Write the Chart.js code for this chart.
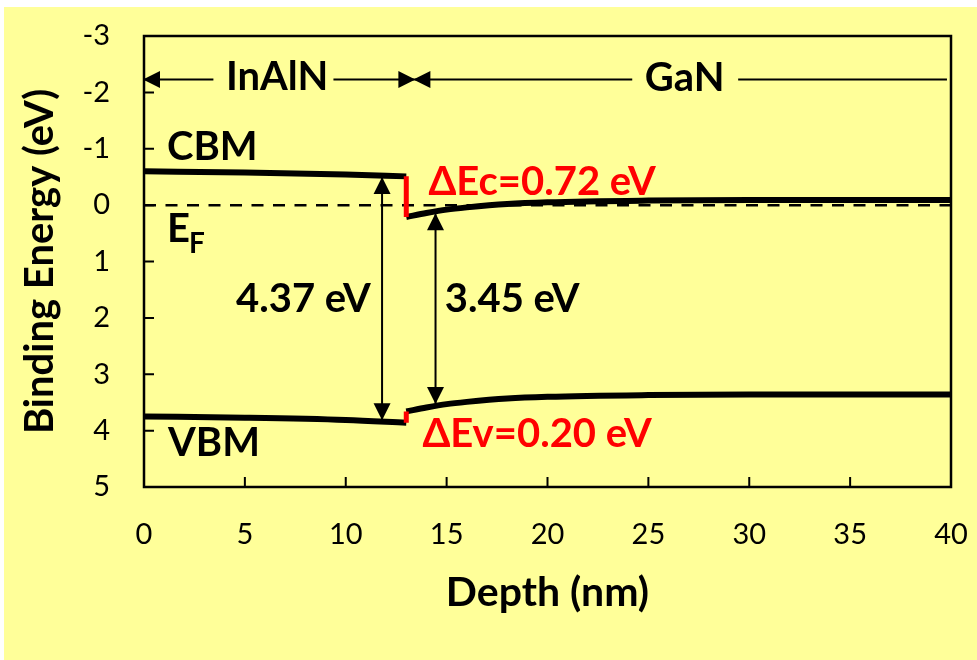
<!DOCTYPE html>
<html>
<head>
<meta charset="utf-8">
<title>InAlN / GaN band diagram</title>
<script src="https://cdn.jsdelivr.net/npm/chart.js@4.4.1/dist/chart.umd.min.js"></script>
<style>
  html, body { margin: 0; padding: 0; background: #fff; }
  #wrap { width: 977px; height: 660px; }
</style>
</head>
<body>
<div id="wrap"><canvas id="bandChart" width="977" height="660"></canvas></div>
<script>
// band edges (depth in nm, binding energy in eV)
const depthInAlN = [0, 5, 10, 13];
const cbmInAlN = [-0.60, -0.58, -0.545, -0.51];
const vbmInAlN = [3.75, 3.77, 3.81, 3.86];

const depthGaN = [13, 14, 15, 16, 18, 20, 25, 30, 40];
const cbmGaN = [0.21, 0.14, 0.08, 0.04, -0.02, -0.05, -0.08, -0.09, -0.09];
const vbmGaN = [3.66, 3.59, 3.53, 3.49, 3.43, 3.40, 3.37, 3.36, 3.36];

// band offsets at the interface
const interfaceX = [13, 13];
const offsetEc = [-0.51, 0.21];
const offsetEv = [3.66, 3.86];

// Fermi level
const fermiX = [0, 40];
const fermiY = [0, 0];

// gap arrows
const gapInAlNX = [11.8, 11.8];
const gapInAlNY = [-0.48, 3.80];
const gapGaNX = [14.45, 14.45];
const gapGaNY = [0.16, 3.51];

// layer arrows at the top (null = gap for the label)
const layerInAlNX = [0, 3.44, 3.44, 9.39, 13.4];
const layerInAlNY = [-2.23, -2.23, null, -2.23, -2.23];
const layerGaNX = [13.4, 24.2, 24.2, 29.45, 39.8];
const layerGaNY = [-2.23, -2.23, null, -2.23, -2.23];

const xTicks = [0, 5, 10, 15, 20, 25, 30, 35, 40];
const yTicks = [-3, -2, -1, 0, 1, 2, 3, 4, 5];

const toPoints = (xs, ys) => xs.map((x, i) => ({ x: x, y: ys[i] }));

function line(xs, ys, opts) {
    return Object.assign({
        data: toPoints(xs, ys),
        showLine: true,
        borderColor: '#000',
        borderWidth: 2,
        pointRadius: 0,
        pointHoverRadius: 0,
        fill: false,
        spanGaps: false,
        order: 2
    }, opts);
}

function drawHead(ctx, from, tip) {
    const a = Math.atan2(tip.y - from.y, tip.x - from.x);
    ctx.save();
    ctx.translate(tip.x, tip.y);
    ctx.rotate(a);
    ctx.beginPath();
    ctx.moveTo(1, 0);
    ctx.lineTo(-16, -8.5);
    ctx.lineTo(-16, 8.5);
    ctx.closePath();
    ctx.fillStyle = '#000';
    ctx.fill();
    ctx.restore();
}

const arrowHeads = {
    id: 'arrowHeads',
    afterDatasetsDraw(chart) {
        const ctx = chart.ctx;
        chart.data.datasets.forEach((ds, i) => {
            if (!ds.arrows) return;
            const pts = chart.getDatasetMeta(i).data;
            const n = pts.length;
            if (ds.arrows.indexOf('start') >= 0) drawHead(ctx, pts[1], pts[0]);
            if (ds.arrows.indexOf('end') >= 0) drawHead(ctx, pts[n - 2], pts[n - 1]);
        });
    }
};

const background = {
    id: 'background',
    beforeDraw(chart) {
        const ctx = chart.ctx;
        ctx.save();
        ctx.fillStyle = '#FFFF99';
        ctx.fillRect(4, 7, chart.width - 4, chart.height - 7);
        ctx.restore();
    }
};

// labels placed in data coordinates
const labels = [
    { text: 'InAlN', x: 6.6, y: -2.04, align: 'center', color: '#000' },
    { text: 'GaN', x: 26.8, y: -2.02, align: 'center', color: '#000' },
    { text: 'CBM', x: 1.14, y: -0.80, align: 'left', color: '#000' },
    { text: 'VBM', x: 1.19, y: 4.45, align: 'left', color: '#000' },
    { text: '4.37 eV', x: 7.9, y: 1.90, align: 'center', color: '#000' },
    { text: '3.45 eV', x: 18.25, y: 1.90, align: 'center', color: '#000' },
    { text: 'ΔEc=0.72 eV', x: 14.1, y: -0.18, align: 'left', color: '#FF0000' },
    { text: 'ΔEv=0.20 eV', x: 13.8, y: 4.29, align: 'left', color: '#FF0000' }
];

const frameAndText = {
    id: 'frameAndText',
    afterDraw(chart) {
        const ctx = chart.ctx;
        const xs = chart.scales.x, ys = chart.scales.y;
        const a = chart.chartArea;
        ctx.save();
        ctx.strokeStyle = '#000';
        ctx.lineWidth = 2.5;
        ctx.strokeRect(a.left, a.top, a.right - a.left, a.bottom - a.top);
        ctx.lineWidth = 2;
        ctx.beginPath();
        yTicks.forEach(v => {
            const py = ys.getPixelForValue(v);
            ctx.moveTo(a.left, py);
            ctx.lineTo(a.left + 10, py);
        });
        xTicks.forEach(v => {
            const px = xs.getPixelForValue(v);
            ctx.moveTo(px, a.bottom);
            ctx.lineTo(px, a.bottom - 10);
        });
        ctx.stroke();

        ctx.textBaseline = 'alphabetic';
        ctx.font = 'bold 40px Lato';
        labels.forEach(l => {
            ctx.fillStyle = l.color;
            ctx.textAlign = l.align;
            ctx.fillText(l.text, xs.getPixelForValue(l.x), ys.getPixelForValue(l.y));
        });
        // E_F with subscript
        const ex = xs.getPixelForValue(1.14), ey = ys.getPixelForValue(0.65);
        ctx.fillStyle = '#000';
        ctx.textAlign = 'left';
        ctx.fillText('E', ex, ey);
        const ew = ctx.measureText('E').width;
        ctx.font = 'bold 28px Lato';
        ctx.fillText('F', ex + ew - 1, ey + 11);
        ctx.restore();
    }
};

new Chart(document.getElementById('bandChart'), {
    type: 'scatter',
    data: {
        datasets: [
            line(interfaceX, offsetEc, { borderColor: '#FF0000', borderWidth: 5, order: 0 }),
            line(interfaceX, offsetEv, { borderColor: '#FF0000', borderWidth: 5, order: 0 }),
            line(depthInAlN, cbmInAlN, { borderWidth: 6, cubicInterpolationMode: 'monotone', order: 1 }),
            line(depthInAlN, vbmInAlN, { borderWidth: 6, cubicInterpolationMode: 'monotone', order: 1 }),
            line(depthGaN, cbmGaN, { borderWidth: 6, cubicInterpolationMode: 'monotone', order: 1 }),
            line(depthGaN, vbmGaN, { borderWidth: 6, cubicInterpolationMode: 'monotone', order: 1 }),
            line(fermiX, fermiY, { borderWidth: 2.5, borderDash: [12, 9.5] }),
            line(gapInAlNX, gapInAlNY, { arrows: ['start', 'end'] }),
            line(gapGaNX, gapGaNY, { arrows: ['start', 'end'] }),
            line(layerInAlNX, layerInAlNY, { arrows: ['start', 'end'] }),
            line(layerGaNX, layerGaNY, { arrows: ['start'] })
        ]
    },
    options: {
        responsive: false,
        animation: false,
        devicePixelRatio: 1,
        layout: { padding: { top: 36, right: 26, left: 0, bottom: 0 } },
        plugins: {
            legend: { display: false },
            tooltip: { enabled: false }
        },
        scales: {
            x: {
                type: 'linear',
                min: 0,
                max: 40,
                afterFit: s => {
                    s.height = 173;
                    s.paddingLeft = 0;
                    s.paddingRight = 0;
                },
                afterBuildTicks: s => { s.ticks = xTicks.map(v => ({ value: v })); },
                ticks: { color: '#000', font: { family: 'Lato', size: 29 }, padding: 30, maxRotation: 0 },
                grid: { display: false, drawTicks: false },
                border: { display: false },
                title: {
                    display: true,
                    text: 'Depth (nm)',
                    color: '#000',
                    font: { family: 'Lato', size: 41, weight: 'bold', lineHeight: 1.2 },
                    padding: { top: 0, bottom: 43 }
                }
            },
            y: {
                type: 'linear',
                reverse: true,
                min: -3,
                max: 5,
                afterFit: s => {
                    s.width = 144;
                    s.paddingTop = 0;
                    s.paddingBottom = 0;
                },
                afterBuildTicks: s => { s.ticks = yTicks.map(v => ({ value: v })); },
                ticks: { color: '#000', font: { family: 'Lato', size: 29 }, padding: 34 },
                grid: { display: false, drawTicks: false },
                border: { display: false },
                title: {
                    display: true,
                    text: 'Binding Energy (eV)',
                    color: '#000',
                    font: { family: 'Lato', size: 40, weight: 'bold', lineHeight: 1.2 },
                    padding: { top: 16, bottom: 0 }
                }
            }
        }
    },
    plugins: [background, arrowHeads, frameAndText]
});
</script>
</body>
</html>
